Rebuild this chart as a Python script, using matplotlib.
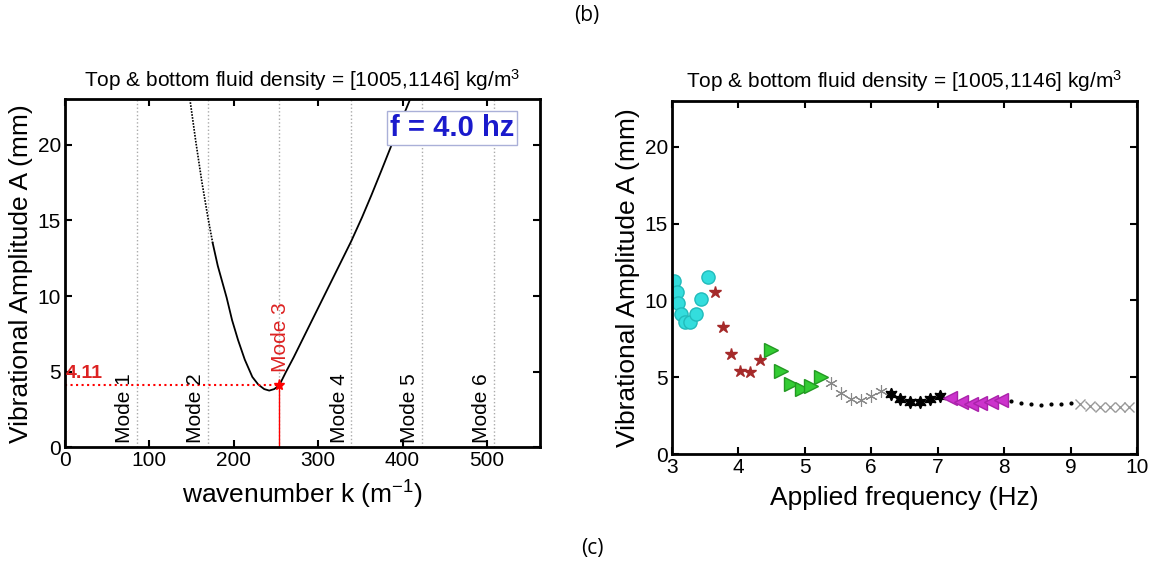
import numpy as np
import matplotlib.pyplot as plt

plt.rcParams['font.family'] = ['Liberation Sans', 'DejaVu Sans']
plt.rcParams['mathtext.fontset'] = 'custom'
plt.rcParams['mathtext.rm'] = 'Liberation Sans'
plt.rcParams['mathtext.it'] = 'Liberation Sans:italic'

# left panel: amplitude vs wavenumber curve
k_dot = [148, 155, 162, 169, 175]
A_dot = [23.0, 20.2, 17.6, 15.3, 13.5]
k_curve = [175, 181, 186, 191.5, 198, 205, 213, 222, 229, 236, 242, 248, 254, 262, 271,
           287, 311, 327, 339, 352, 363, 375, 385, 396, 409]
A_curve = [13.5, 12.0, 11.0, 9.9, 8.4, 7.1, 5.8, 4.65, 4.15, 3.85, 3.75, 3.85, 4.11, 5.0, 5.95,
           7.75, 10.45, 12.25, 13.6, 15.2, 16.65, 18.3, 19.7, 21.25, 23.0]
modes = [85, 169, 254, 339, 423, 508]
mode_names = ['Mode 1', 'Mode 2', 'Mode 3', 'Mode 4', 'Mode 5', 'Mode 6']
k_sel = 254
A_sel = 4.11

# right panel: amplitude vs applied frequency, one group per marker
f_circ = [3.03, 3.07, 3.09, 3.14, 3.20, 3.27, 3.36, 3.44, 3.54]
A_circ = [11.28, 10.57, 9.81, 9.11, 8.62, 8.62, 9.11, 10.09, 11.5]
f_star = [3.65, 3.77, 3.89, 4.03, 4.18, 4.33]
A_star = [10.55, 8.29, 6.49, 5.43, 5.36, 6.12]
f_tri = [4.49, 4.64, 4.79, 4.95, 5.09, 5.25]
A_tri = [6.77, 5.38, 4.54, 4.21, 4.45, 4.99]
f_ast = [5.40, 5.55, 5.70, 5.84, 6.00, 6.14]
A_ast = [4.64, 3.95, 3.56, 3.49, 3.78, 4.10]
f_hex = [6.29, 6.44, 6.59, 6.74, 6.89, 7.04]
A_hex = [3.91, 3.56, 3.36, 3.41, 3.58, 3.80]
f_ltri = [7.19, 7.35, 7.50, 7.64, 7.80, 7.95]
A_ltri = [3.62, 3.39, 3.26, 3.30, 3.41, 3.52]
f_dot = [8.10, 8.25, 8.40, 8.55, 8.70, 8.85, 9.00]
A_dot2 = [3.45, 3.30, 3.24, 3.21, 3.24, 3.28, 3.34]
f_x = [9.14, 9.29, 9.44, 9.60, 9.74, 9.88]
A_x = [3.26, 3.15, 3.08, 3.08, 3.08, 3.08]

title = 'Top & bottom fluid density = [1005,1146] kg/m$^3$'

fig = plt.figure(figsize=(11.55, 5.71), dpi=100)

def style(ax):
    for s in ax.spines.values():
        s.set_linewidth(2)
    ax.tick_params(direction='in', top=True, right=True, labelsize=15, length=5, width=1.5, pad=3)

# ---- left ----
ax1 = fig.add_axes([0.0563, 0.2166, 0.4113, 0.6095])
for m in modes:
    ax1.axvline(m, color='#aaaaaa', ls=':', lw=1)
ax1.plot(k_dot, A_dot, color='k', ls=(0, (1, 0.8)), lw=1.2)
ax1.plot(k_curve, A_curve, color='k', lw=1.3)
ax1.plot([0, k_sel], [A_sel, A_sel], color='red', ls=':', lw=1.5)
ax1.plot([k_sel, k_sel], [0, A_sel], color='red', lw=1)
ax1.plot(k_sel, A_sel, marker='*', color='red', ms=8)
for m, name in zip(modes, mode_names):
    if m == k_sel:
        ax1.text(m + 1, 5.0, name, rotation=90, color='#dd2222', fontsize=15,
                 ha='center', va='bottom')
    else:
        ax1.text(m - 3, 0.3, name, rotation=90, color='k', fontsize=15,
                 ha='right', va='bottom')
ax1.text(1, 4.3, '4.11', color='#dd2222', fontsize=14, fontweight='bold',
         ha='left', va='bottom')
ax1.text(459, 21.1, 'f = 4.0 hz', color='#1a1acc', fontsize=21, fontweight='bold',
         ha='center', va='center',
         bbox=dict(facecolor='white', edgecolor='#aab0d8', lw=1, pad=2))
ax1.set_xlim(0, 563)
ax1.set_ylim(0, 23)
ax1.set_xticks([0, 100, 200, 300, 400, 500])
ax1.set_yticks([0, 5, 10, 15, 20])
ax1.set_xlabel('wavenumber k (m$^{-1}$)', fontsize=19, labelpad=6)
ax1.set_ylabel('Vibrational Amplitude A (mm)', fontsize=19, labelpad=3)
ax1.set_title(title, fontsize=15, pad=9)
style(ax1)

# ---- right ----
ax2 = fig.add_axes([0.5818, 0.2049, 0.4026, 0.6187])
ax2.plot(f_circ, A_circ, 'o', color='#33dddd', mec='#22bbbb', ms=9.5)
ax2.plot(f_star, A_star, '*', color='#a52a2a', ms=9)
ax2.plot(f_tri, A_tri, '>', color='#33cc33', mec='#229922', ms=10)
ax2.plot(f_ast, A_ast, marker=(6, 2, 0), ls='none', color='#888888', ms=9, mew=0.8)
ax2.plot(f_hex, A_hex, marker=(6, 1, 0), ls='none', color='k', ms=9)
ax2.plot(f_ltri, A_ltri, '<', color='#cc33cc', mec='#aa22aa', ms=10)
ax2.plot(f_dot, A_dot2, '.', color='k', ms=4)
ax2.plot(f_x, A_x, 'x', color='#999999', ms=7, mew=1)
ax2.set_xlim(3, 10)
ax2.set_ylim(0, 23)
ax2.set_xticks(range(3, 11))
ax2.set_yticks([0, 5, 10, 15, 20])
ax2.set_xlabel('Applied frequency (Hz)', fontsize=19, labelpad=6)
ax2.set_ylabel('Vibrational Amplitude A (mm)', fontsize=19, labelpad=3)
ax2.set_title(title, fontsize=15, pad=9)
style(ax2)

fig.text(0.508, 0.973, '(b)', fontsize=15, family='Open Sans', ha='center', va='center')
fig.text(0.513, 0.040, '(c)', fontsize=15, family='Open Sans', ha='center', va='center')

fig.savefig('out.png', dpi=100)
